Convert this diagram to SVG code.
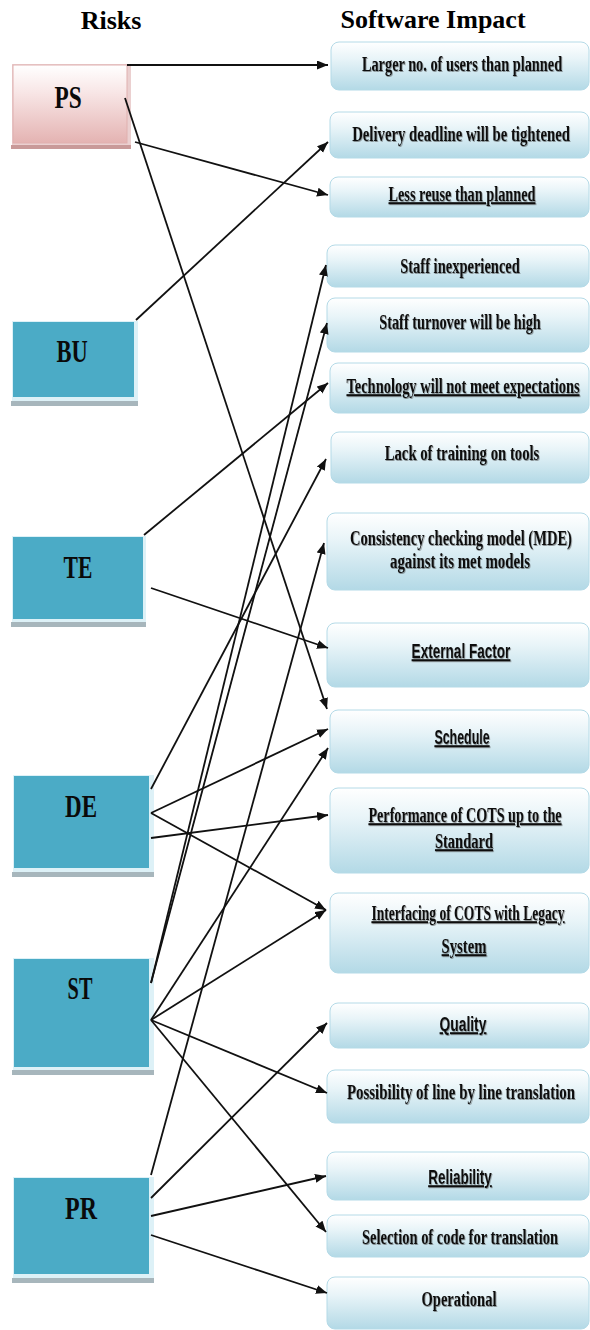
<svg xmlns="http://www.w3.org/2000/svg" width="590" height="1330" viewBox="0 0 590 1330">
<defs>
<linearGradient id="gRight" x1="0" y1="0" x2="0" y2="1">
<stop offset="0" stop-color="#FFFFFF"/>
<stop offset="0.35" stop-color="#E8F4F8"/>
<stop offset="1" stop-color="#B3D9E6"/>
</linearGradient>
<linearGradient id="gPink" x1="0" y1="0" x2="0" y2="1">
<stop offset="0" stop-color="#FFFFFF"/>
<stop offset="0.35" stop-color="#F8E6E6"/>
<stop offset="1" stop-color="#E4B3B2"/>
</linearGradient>
<filter id="ts" x="-20%" y="-50%" width="140%" height="200%">
<feDropShadow dx="1" dy="1" stdDeviation="0.7" flood-color="#444" flood-opacity="0.55"/>
</filter>
<marker id="arr" markerUnits="userSpaceOnUse" markerWidth="12" markerHeight="10" refX="11" refY="4.5" orient="auto">
<path d="M0,0 L11,4.5 L0,9 z" fill="#111"/>
</marker>
</defs>
<style>
.hdr{font-family:"Liberation Serif","Times New Roman",serif;font-weight:bold;font-size:26px;fill:#000;text-anchor:middle}
.rim{fill:#DDF1F7}
.sh{fill:#A7B6BC}
.teal{fill:#4BABC6}
.lbl{font-family:"Liberation Serif","Times New Roman",serif;font-weight:bold;font-size:32px;fill:#0a0a0a;text-anchor:middle}
.rbox{fill:url(#gRight);stroke:#B4DAE7;stroke-width:1}
.rt{font-family:"Liberation Serif","Times New Roman",serif;font-weight:bold;font-size:20px;fill:#111;text-anchor:middle;filter:url(#ts)}
.rs{font-family:"Liberation Sans",Arial,sans-serif;font-weight:bold;font-size:20px;fill:#111;text-anchor:middle;filter:url(#ts)}
.u{text-decoration:underline}
.con line{stroke:#111;stroke-width:1.8;marker-end:url(#arr)}
</style>

<text class="hdr" x="111" y="29">Risks</text>
<text class="hdr" x="433" y="28">Software Impact</text>

<g id="PS">
<rect x="12" y="64" width="119" height="84" fill="#EBD0D0"/>
<rect x="11" y="145" width="120" height="4" fill="#C99A99"/>
<rect x="13" y="65" width="114" height="78" fill="url(#gPink)" stroke="#E0B0AF" stroke-width="1"/>
<text class="lbl" transform="translate(68,108) scale(0.8,1)" textLength="34" lengthAdjust="spacingAndGlyphs">PS</text>
</g>
<g id="BU">
<rect class="rim" x="12" y="321" width="126" height="80"/>
<rect class="sh" x="11" y="401" width="127" height="5"/>
<rect class="teal" x="13" y="322" width="121" height="75"/>
<text class="lbl" transform="translate(72,362) scale(0.8,1)" textLength="39" lengthAdjust="spacingAndGlyphs">BU</text>
</g>
<g id="TE">
<rect class="rim" x="12" y="536" width="134" height="86"/>
<rect class="sh" x="11" y="622" width="135" height="5"/>
<rect class="teal" x="13" y="537" width="130" height="82"/>
<text class="lbl" transform="translate(78,578) scale(0.8,1)" textLength="36" lengthAdjust="spacingAndGlyphs">TE</text>
</g>
<g id="DE">
<rect class="rim" x="13" y="775" width="141" height="97"/>
<rect class="sh" x="12" y="872" width="142" height="5"/>
<rect class="teal" x="14" y="776" width="135" height="92"/>
<text class="lbl" transform="translate(81,817) scale(0.8,1)" textLength="40" lengthAdjust="spacingAndGlyphs">DE</text>
</g>
<g id="ST">
<rect class="rim" x="13" y="958" width="141" height="112"/>
<rect class="sh" x="12" y="1070" width="142" height="5"/>
<rect class="teal" x="14" y="959" width="135" height="108"/>
<text class="lbl" transform="translate(80,999) scale(0.8,1)" textLength="31" lengthAdjust="spacingAndGlyphs">ST</text>
</g>
<g id="PR">
<rect class="rim" x="13" y="1177" width="141" height="101"/>
<rect class="sh" x="12" y="1278" width="142" height="5"/>
<rect class="teal" x="14" y="1178" width="135" height="96"/>
<text class="lbl" transform="translate(81,1219) scale(0.8,1)" textLength="40" lengthAdjust="spacingAndGlyphs">PR</text>
</g>

<g id="I1"><rect class="rbox" x="331" y="42" width="258" height="48" rx="8"/>
<text class="rt" transform="translate(462,71) scale(0.7,1)" textLength="286" lengthAdjust="spacingAndGlyphs">Larger no. of users than planned</text></g>
<g id="I2"><rect class="rbox" x="330" y="112" width="259" height="46" rx="8"/>
<text class="rt" transform="translate(461,141) scale(0.7,1)" textLength="311" lengthAdjust="spacingAndGlyphs">Delivery deadline will be tightened</text></g>
<g id="I3"><rect class="rbox" x="330" y="177" width="259" height="40" rx="8"/>
<text class="rt u" transform="translate(462,201) scale(0.7,1)" textLength="210" lengthAdjust="spacingAndGlyphs">Less reuse than planned</text></g>
<g id="I4"><rect class="rbox" x="327" y="245" width="262" height="42" rx="8"/>
<text class="rt" transform="translate(460,273) scale(0.7,1)" textLength="171" lengthAdjust="spacingAndGlyphs">Staff inexperienced</text></g>
<g id="I5"><rect class="rbox" x="327" y="298" width="262" height="54" rx="8"/>
<text class="rt" transform="translate(460,329) scale(0.7,1)" textLength="231" lengthAdjust="spacingAndGlyphs">Staff turnover will be high</text></g>
<g id="I6"><rect class="rbox" x="330" y="363" width="259" height="50" rx="8"/>
<text class="rt u" transform="translate(463,393) scale(0.7,1)" textLength="333" lengthAdjust="spacingAndGlyphs">Technology will not meet expectations</text></g>
<g id="I7"><rect class="rbox" x="331" y="432" width="258" height="51" rx="8"/>
<text class="rt" transform="translate(462,460) scale(0.7,1)" textLength="221" lengthAdjust="spacingAndGlyphs">Lack of training on tools</text></g>
<g id="I8"><rect class="rbox" x="327" y="513" width="262" height="77" rx="8"/>
<text class="rt" transform="translate(461,545) scale(0.7,1)" textLength="317" lengthAdjust="spacingAndGlyphs">Consistency checking model (MDE)</text>
<text class="rt" transform="translate(460,568) scale(0.7,1)" textLength="200" lengthAdjust="spacingAndGlyphs">against its met models</text></g>
<g id="I9"><rect class="rbox" x="327" y="623" width="262" height="64" rx="8"/>
<text class="rs u" transform="translate(461,658) scale(0.65,1)" textLength="152" lengthAdjust="spacingAndGlyphs">External Factor</text></g>
<g id="I10"><rect class="rbox" x="330" y="710" width="259" height="63" rx="8"/>
<text class="rs u" transform="translate(462,744) scale(0.65,1)" textLength="85" lengthAdjust="spacingAndGlyphs">Schedule</text></g>
<g id="I11"><rect class="rbox" x="330" y="788" width="259" height="85" rx="8"/>
<text class="rt u" transform="translate(465,822) scale(0.7,1)" textLength="276" lengthAdjust="spacingAndGlyphs">Performance of COTS up to the</text>
<text class="rt u" transform="translate(464,848) scale(0.7,1)" textLength="83" lengthAdjust="spacingAndGlyphs">Standard</text></g>
<g id="I12"><rect class="rbox" x="330" y="893" width="259" height="80" rx="8"/>
<text class="rt u" transform="translate(468,920) scale(0.7,1)" textLength="276" lengthAdjust="spacingAndGlyphs">Interfacing of COTS with Legacy</text>
<text class="rt u" transform="translate(464,953) scale(0.7,1)" textLength="64" lengthAdjust="spacingAndGlyphs">System</text></g>
<g id="I13"><rect class="rbox" x="330" y="1003" width="259" height="45" rx="8"/>
<text class="rs u" transform="translate(463,1031) scale(0.65,1)" textLength="72" lengthAdjust="spacingAndGlyphs">Quality</text></g>
<g id="I14"><rect class="rbox" x="327" y="1070" width="262" height="53" rx="8"/>
<text class="rt" transform="translate(461,1099) scale(0.7,1)" textLength="326" lengthAdjust="spacingAndGlyphs">Possibility of line by line translation</text></g>
<g id="I15"><rect class="rbox" x="327" y="1152" width="262" height="48" rx="8"/>
<text class="rs u" transform="translate(460,1184) scale(0.65,1)" textLength="98" lengthAdjust="spacingAndGlyphs">Reliability</text></g>
<g id="I16"><rect class="rbox" x="327" y="1215" width="262" height="42" rx="8"/>
<text class="rt" transform="translate(460,1244) scale(0.7,1)" textLength="280" lengthAdjust="spacingAndGlyphs">Selection of code for translation</text></g>
<g id="I17"><rect class="rbox" x="327" y="1277" width="262" height="52" rx="8"/>
<text class="rt" transform="translate(459,1306) scale(0.7,1)" textLength="107" lengthAdjust="spacingAndGlyphs">Operational</text></g>

<g id="connectors" class="con">
<line x1="127" y1="65" x2="328" y2="65"/>
<line x1="125" y1="98" x2="327" y2="709"/>
<line x1="135" y1="142" x2="328" y2="195"/>
<line x1="136" y1="320" x2="328" y2="142"/>
<line x1="144" y1="535" x2="328" y2="383"/>
<line x1="151" y1="588" x2="328" y2="648"/>
<line x1="151" y1="789" x2="326" y2="459"/>
<line x1="151" y1="813" x2="328" y2="729"/>
<line x1="151" y1="838" x2="328" y2="815"/>
<line x1="151" y1="813" x2="326" y2="910"/>
<line x1="151" y1="983" x2="326" y2="265"/>
<line x1="151" y1="983" x2="327" y2="323"/>
<line x1="151" y1="1020" x2="328" y2="748"/>
<line x1="151" y1="1020" x2="326" y2="910"/>
<line x1="151" y1="1020" x2="327" y2="1093"/>
<line x1="151" y1="1020" x2="326" y2="1232"/>
<line x1="151" y1="1175" x2="324" y2="543"/>
<line x1="151" y1="1198" x2="327" y2="1023"/>
<line x1="151" y1="1216" x2="326" y2="1176"/>
<line x1="151" y1="1235" x2="327" y2="1293"/>
</g>
</svg>
